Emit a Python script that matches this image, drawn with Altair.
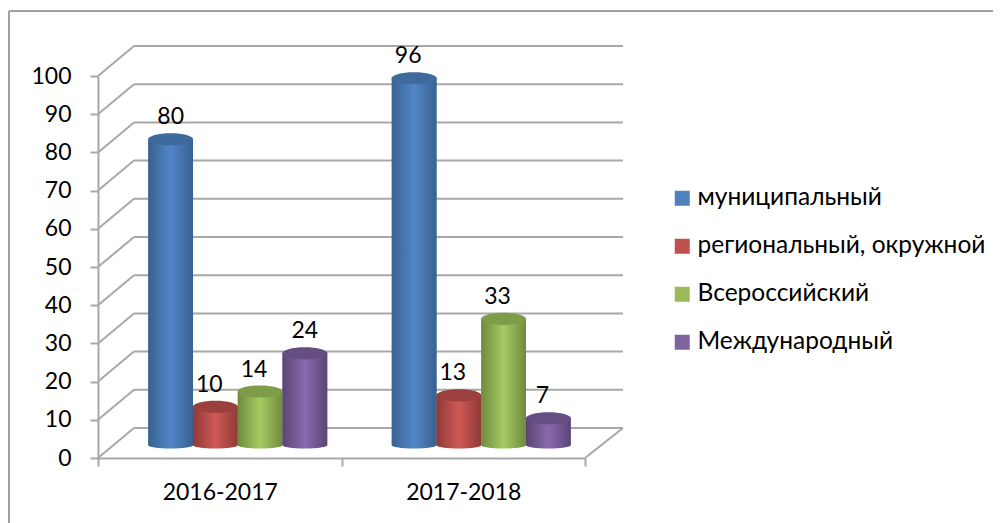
import altair as alt
import pandas as pd

periods = ["2016-2017", "2017-2018"]
series = ["муниципальный", "региональный, окружной", "Всероссийский", "Международный"]
values_2016 = [80, 10, 14, 24]
values_2017 = [96, 13, 33, 7]
ticks = list(range(0, 101, 10))
flat = ["#4f81bd", "#c0504d", "#9bbb59", "#8064a2"]
edge = ["#38618f", "#8f3a38", "#6f8a3c", "#5a4575"]
mid = ["#5286c8", "#d05955", "#a6cc63", "#8a69ae"]
top = ["#3f6a9e", "#9c403d", "#7f9c49", "#654f82"]

NUM_FONT = "Lato"
TXT_FONT = "Lato"
GRID = "#a8a8a8"
DX, DY = 18, -13
BW, BH = 36, -30
W, H = 487, 382

rows = []
for p, vals in zip(periods, [values_2016, values_2017]):
    for s, v in zip(series, vals):
        rows.append({"period": p, "series": s, "value": v, "zero": 0})
df = pd.DataFrame(rows)
tdf = pd.DataFrame({"tick": ticks})

band = dict(domain=periods, paddingInner=0.265, paddingOuter=0.1325)
XA = alt.X("period:N", sort=periods, title=None,
           scale=alt.Scale(domain=periods, paddingInner=0, paddingOuter=0),
           axis=alt.Axis(labelAngle=0, tickBand="extent", tickSize=8, tickColor=GRID, tickWidth=2,
                         domainColor=GRID, domainWidth=2, labelFont=NUM_FONT, labelFontSize=23,
                         labelColor="#000000", labelPadding=15))
YA = alt.Y("value:Q", stack=None, title=None, scale=alt.Scale(domain=[0, 100], nice=False),
           axis=alt.Axis(values=ticks, tickSize=8, tickColor=GRID, tickWidth=2, domainColor=GRID,
                         domainWidth=2, labelFont=NUM_FONT, labelFontSize=23, labelColor="#000000",
                         labelPadding=19, grid=False))
# marks stand in the depth of the chart: same domains, ranges moved back
X = alt.X("period:N", sort=periods, title=None, axis=None,
          scale=alt.Scale(range=[DX, W + DX], **band))
XO = alt.XOffset("series:N", sort=series, scale=alt.Scale(domain=series))
depth = alt.Scale(domain=[0, 100], nice=False, range=[H + DY, DY])
Y = alt.Y("value:Q", stack=None, title=None, axis=None, scale=depth)
YZ = alt.Y("zero:Q", title=None, axis=None, scale=depth)
YT = alt.Y("tick:Q", title=None, axis=None,
           scale=alt.Scale(domain=[0, 100], nice=False, range=[H + BH, BH]))
YF = alt.Y("tick:Q", title=None, axis=None, scale=alt.Scale(domain=[0, 100], nice=False))


def grad(a, b):
    return alt.Gradient(gradient="linear", x1=0, x2=1, y1=0, y2=0, stops=[
        alt.GradientStop(color=a, offset=0), alt.GradientStop(color=b, offset=0.5),
        alt.GradientStop(color=a, offset=1)])


layers = []
# frame
frame = pd.DataFrame({"a": [0]})
layers.append(alt.Chart(frame).mark_rule(color="#a0a0a0", strokeWidth=2).encode(
    x=alt.value(-89), y=alt.value(-65), y2=alt.value(H + 65)))
layers.append(alt.Chart(frame).mark_rule(color="#a0a0a0", strokeWidth=2).encode(
    x=alt.value(-89), x2=alt.value(902), y=alt.value(-65)))
# axes
layers.append(alt.Chart(df).mark_text(opacity=0).encode(x=XA, y=YA, text=alt.value("")))
# back wall grid
layers.append(alt.Chart(tdf).mark_rule(color=GRID, strokeWidth=2).encode(
    x=alt.value(BW), x2=alt.value(W + BW + 2), y=YT))
# side wall diagonals
layers.append(alt.Chart(tdf).mark_rule(color=GRID, strokeWidth=2, y2Offset=BH).encode(
    x=alt.value(0), x2=alt.value(BW), y=YF, y2=alt.Y2("tick:Q")))
# floor right edge
layers.append(alt.Chart(tdf[tdf.tick == 0]).mark_rule(color=GRID, strokeWidth=2, y2Offset=BH).encode(
    x=alt.value(W), x2=alt.value(W + BW + 2), y=YF, y2=alt.Y2("tick:Q")))
# flat bars carrying the legend
legend = alt.Legend(title=None, orient="none", legendX=572, legendY=110, symbolType="square",
                    symbolSize=225, symbolStrokeWidth=0, labelFont=TXT_FONT, labelFontSize=24.5,
                    labelColor="#000000", labelOffset=3, rowPadding=23, symbolOpacity=1, labelLimit=400)
layers.append(alt.Chart(df).mark_bar().encode(
    x=X, xOffset=XO, y=Y,
    color=alt.Color("series:N", sort=series, scale=alt.Scale(domain=series, range=flat), legend=legend)))
# cylinders
for s, e, m, t in zip(series, edge, mid, top):
    base = alt.Chart(df[df.series == s])
    layers.append(base.mark_point(
        filled=True, opacity=1, color=grad(e, m), size=2025,
        shape="M-1,0 A1,0.16 0 1 0 1,0 Z").encode(x=X, xOffset=XO, y=YZ))
    layers.append(base.mark_bar(color=grad(e, m)).encode(x=X, xOffset=XO, y=Y))
    layers.append(base.mark_point(
        filled=True, opacity=1, color=t, size=2025,
        shape="M-1,0 A1,0.27 0 1 1 1,0 A1,0.27 0 1 1 -1,0 Z").encode(x=X, xOffset=XO, y=Y))
# labels
for keep, shift in [([80, 24], 0), ([10, 14, 96, 13, 33, 7], -6)]:
    layers.append(alt.Chart(df[df.value.isin(keep)]).mark_text(
        font=NUM_FONT, fontSize=23, color="#000000", dx=shift, dy=-22).encode(
        x=X, xOffset=XO, y=Y, text="value:Q"))

chart = alt.layer(*layers).resolve_scale(x="independent", y="independent", xOffset="independent").resolve_axis(
    x="independent", y="independent"
).properties(
    width=W, height=H,
    padding={"left": 90, "top": 68, "right": 408, "bottom": 65},
    autosize=alt.AutoSizeParams(type="none"),
).configure_view(stroke=None)
chart.save("out.html", embed_options={"renderer": "svg", "actions": False})
